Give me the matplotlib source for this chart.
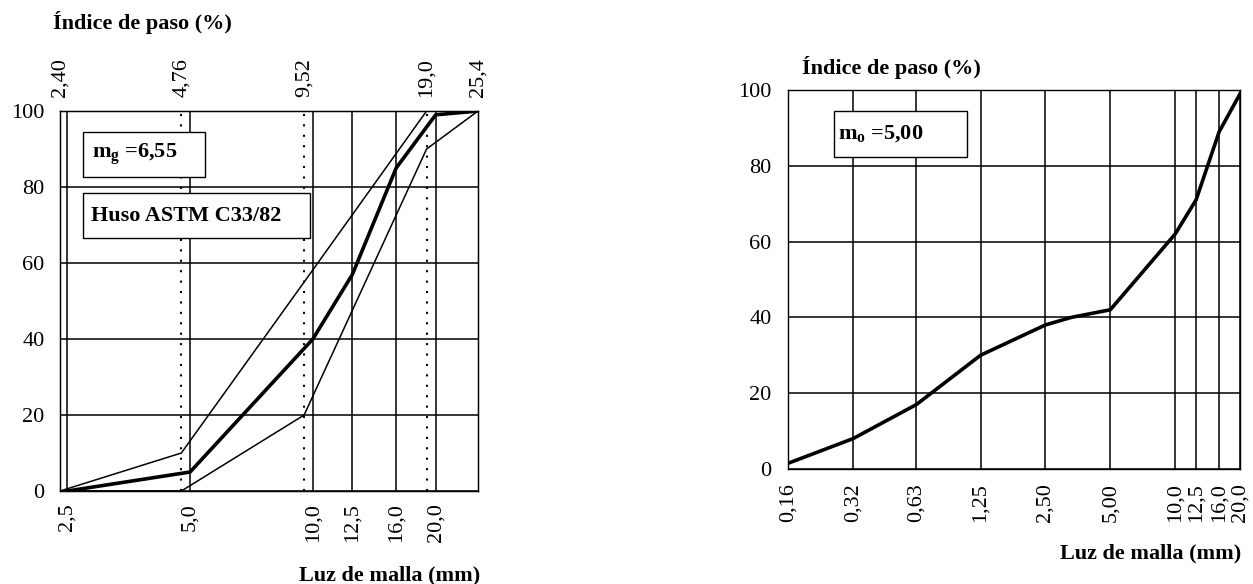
import matplotlib.pyplot as plt
from matplotlib.patches import Rectangle
from matplotlib.ticker import NullLocator

plt.rcParams['font.family'] = ['Liberation Serif', 'DejaVu Serif']
plt.rcParams['mathtext.fontset'] = 'custom'
plt.rcParams['mathtext.rm'] = 'Liberation Serif'
plt.rcParams['mathtext.bf'] = 'Liberation Serif:bold'

# grava (grafico izquierdo)
tamiz_g = [2.5, 5.0, 10.0, 12.5, 16.0, 20.0, 25.4]
paso_g = [0, 5, 40, 57, 85, 99, 100]
etiq_g = ['2,5', '5,0', '10,0', '12,5', '16,0', '20,0']

# huso ASTM C33 (tamices de arriba)
tamiz_astm = [2.40, 4.76, 9.52, 19.0, 25.4]
etiq_astm = ['2,40', '4,76', '9,52', '19,0', '25,4']
huso_sup = [0, 10, 55, 100, 100]
huso_inf = [0, 0, 20, 90, 100]

# arena (grafico derecho)
tamiz_a = [0.16, 0.32, 0.63, 1.25, 2.50, 3.3, 5.00, 10.0, 12.5, 16.0, 20.0]
paso_a = [1.5, 8, 17, 30, 38, 40, 42, 62, 71, 89, 99]
ticks_a = [0.16, 0.32, 0.63, 1.25, 2.50, 5.00, 10.0, 12.5, 16.0, 20.0]
etiq_a = ['0,16', '0,32', '0,63', '1,25', '2,50', '5,00', '10,0', '12,5', '16,0', '20,0']

y_ticks = [0, 20, 40, 60, 80, 100]
tick_size = 16
lab_size = 16

fig = plt.figure(figsize=(12.53, 5.84), dpi=100)
ax1 = fig.add_axes([0.0479, 0.1592, 0.3336, 0.6507])
ax3 = fig.add_axes([0.629, 0.197, 0.3607, 0.649])


def base_axes(ax, ticks, labels, xlim, ypad):
    ax.set_xscale('log')
    ax.set_xlim(*xlim)
    ax.set_ylim(0, 100)
    ax.set_xticks(ticks)
    ax.set_xticklabels(labels, rotation=90)
    ax.xaxis.set_minor_locator(NullLocator())
    ax.set_yticks(y_ticks)
    ax.tick_params(length=0, labelsize=tick_size)
    ax.tick_params(axis='y', pad=ypad)
    ax.tick_params(axis='x', pad=9)
    ax.grid(True, color='black', lw=1.1)
    for s in ax.spines.values():
        s.set_linewidth(1.0)
    ax.set_axisbelow(True)


# ---- izquierda
base_axes(ax1, tamiz_g[:-1], etiq_g, (2.40, 25.4), 11)
for t in tamiz_astm[1:-1]:
    ax1.axvline(t, color='black', lw=1.5, ls=(0, (1, 4)), zorder=1)
ax1.plot(tamiz_astm, huso_sup, color='black', lw=1.1, zorder=3)
ax1.plot(tamiz_astm, huso_inf, color='black', lw=1.1, zorder=3)
ax1.plot(tamiz_g, paso_g, color='black', lw=2.6, zorder=4)

ax2 = ax1.twiny()
ax2.set_xscale('log')
ax2.set_xlim(2.40, 25.4)
ax2.set_xticks(tamiz_astm)
ax2.set_xticklabels(etiq_astm, rotation=90)
ax2.xaxis.set_minor_locator(NullLocator())
ax2.tick_params(length=0, labelsize=tick_size, pad=10)

ax1.add_patch(Rectangle((0.055, 0.826), 0.292, 0.118, transform=ax1.transAxes,
                        facecolor='white', edgecolor='black', lw=1, zorder=5))
ax1.text(0.0766, 0.887, r'$\mathbf{m_g}$ =6,55', transform=ax1.transAxes,
         fontsize=lab_size, fontweight='bold', va='center', zorder=6)
ax1.add_patch(Rectangle((0.055, 0.666), 0.543, 0.118, transform=ax1.transAxes,
                        facecolor='white', edgecolor='black', lw=1, zorder=5))
ax1.text(0.074, 0.725, 'Huso ASTM C33/82', transform=ax1.transAxes,
         fontsize=lab_size, fontweight='bold', va='center', zorder=6)

fig.text(0.042, 0.962, 'Índice de paso (%)', fontsize=lab_size,
         fontweight='bold', va='center', ha='left')
fig.text(0.383, 0.0154, 'Luz de malla (mm)', fontsize=lab_size,
         fontweight='bold', va='center', ha='right')

# ---- derecha
base_axes(ax3, ticks_a, etiq_a, (0.16, 20.0), 12)
ax3.tick_params(axis='x', pad=10)
ax3.plot(tamiz_a, paso_a, color='black', lw=2.6, zorder=4)
ax3.add_patch(Rectangle((0.102, 0.823), 0.294, 0.121, transform=ax3.transAxes,
                        facecolor='white', edgecolor='black', lw=1, zorder=5))
ax3.text(0.111, 0.884, r'$\mathbf{m_o}$ =5,00', transform=ax3.transAxes,
         fontsize=lab_size, fontweight='bold', va='center', zorder=6)

fig.text(0.640, 0.8836, 'Índice de paso (%)', fontsize=lab_size,
         fontweight='bold', va='center', ha='left')
fig.text(0.991, 0.053, 'Luz de malla (mm)', fontsize=lab_size,
         fontweight='bold', va='center', ha='right')

fig.savefig('out.png', dpi=100)
